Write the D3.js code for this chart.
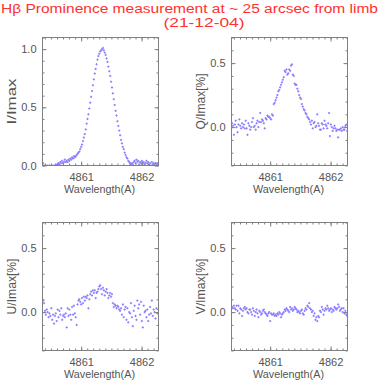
<!DOCTYPE html>
<html>
<head>
<meta charset="utf-8">
<script src="https://cdn.jsdelivr.net/npm/d3@7"></script>
<style>
  html, body { margin: 0; padding: 0; background: #fff; }
  svg { display: block; }
  text { font-family: "Liberation Sans", Arial, Helvetica, sans-serif; }
</style>
</head>
<body>
<svg id="chart" width="390" height="390"></svg>
<script>
// ---------------- data ----------------
const titleLine1 = "H\u03B2 Prominence measurement at ~ 25 arcsec from limb";
const titleLine2 = "(21-12-04)";
const xLabel = "Wavelength(A)";
const yLabels = ["I/Imax", "Q/Imax[%]", "U/Imax[%]", "V/Imax[%]"];

const wavelength = [
  4860.370,4860.385,4860.400,4860.415,4860.430,4860.445,4860.460,4860.475,4860.490,4860.505,4860.520,4860.535,4860.550,4860.565,4860.580,4860.595,
  4860.610,4860.625,4860.640,4860.655,4860.670,4860.685,4860.700,4860.715,4860.730,4860.745,4860.760,4860.775,4860.790,4860.805,4860.820,4860.835,
  4860.850,4860.865,4860.880,4860.895,4860.910,4860.925,4860.940,4860.955,4860.970,4860.985,4861.000,4861.015,4861.030,4861.045,4861.060,4861.075,
  4861.090,4861.105,4861.120,4861.135,4861.150,4861.165,4861.180,4861.195,4861.210,4861.225,4861.240,4861.255,4861.270,4861.285,4861.300,4861.315,
  4861.330,4861.345,4861.360,4861.375,4861.390,4861.405,4861.420,4861.435,4861.450,4861.465,4861.480,4861.495,4861.510,4861.525,4861.540,4861.555,
  4861.570,4861.585,4861.600,4861.615,4861.630,4861.645,4861.660,4861.675,4861.690,4861.705,4861.720,4861.735,4861.750,4861.765,4861.780,4861.795,
  4861.810,4861.825,4861.840,4861.855,4861.870,4861.885,4861.900,4861.915,4861.930,4861.945,4861.960,4861.975,4861.990,4862.005,4862.020,4862.035,
  4862.050,4862.065,4862.080,4862.095,4862.110,4862.125,4862.140,4862.155,4862.170,4862.185,4862.200,4862.215,4862.230,4862.245,4862.260,4862.275
];

const stokesI = [
  0.02,0.00,-0.01,0.00,-0.01,0.00,-0.02,0.00,-0.01,0.00,-0.01,0.00,-0.02,0.00,0.01,0.00,
  0.01,0.02,0.01,0.03,0.02,0.04,0.02,0.03,0.05,0.03,0.04,0.03,0.05,0.04,0.06,0.05,
  0.07,0.06,0.08,0.07,0.08,0.09,0.10,0.11,0.12,0.14,0.16,0.18,0.21,0.24,0.27,0.31,
  0.36,0.40,0.44,0.49,0.54,0.59,0.64,0.69,0.74,0.79,0.83,0.87,0.91,0.94,0.96,0.98,
  0.99,1.00,1.01,0.99,0.97,0.95,0.92,0.89,0.85,0.81,0.77,0.72,0.67,0.62,0.57,0.52,
  0.47,0.43,0.38,0.34,0.30,0.26,0.22,0.19,0.16,0.14,0.11,0.09,0.07,0.06,0.04,0.03,
  0.02,0.01,0.02,0.01,0.03,0.04,0.02,0.05,0.03,0.04,0.01,0.03,0.02,0.04,0.02,0.03,
  0.01,0.02,0.04,0.02,0.03,0.01,0.02,0.00,0.03,0.01,0.02,0.00,0.02,0.01,0.02,0.01
];

const stokesQ = [
  0.03,0.01,-0.06,0.02,0.05,0.00,-0.04,0.02,0.06,0.01,-0.01,0.03,0.00,0.02,-0.01,0.05,
  -0.01,-0.06,0.03,0.01,-0.02,0.00,0.04,0.07,0.00,0.01,-0.02,0.03,0.05,0.00,0.04,0.11,
  0.04,0.06,0.05,0.03,-0.01,0.07,0.06,0.09,0.08,0.08,0.07,0.06,0.10,0.09,0.18,0.19,
  0.21,0.23,0.25,0.28,0.29,0.31,0.33,0.35,0.37,0.39,0.44,0.43,0.45,0.41,0.42,0.45,
  0.44,0.48,0.49,0.41,0.40,0.34,0.33,0.33,0.30,0.28,0.25,0.23,0.22,0.18,0.16,0.14,
  0.13,0.11,0.10,0.08,0.07,0.06,0.04,0.02,0.05,-0.01,0.03,0.04,0.00,0.01,0.10,0.03,
  0.01,-0.02,-0.02,0.03,0.02,-0.01,0.05,0.02,0.01,-0.01,0.03,0.11,-0.07,0.02,0.00,-0.03,
  -0.01,0.01,-0.01,-0.03,-0.02,-0.08,-0.02,-0.02,-0.01,-0.03,0.00,-0.02,-0.02,0.01,0.02,-0.03
];

const stokesU = [
  0.09,0.07,0.01,-0.02,0.02,0.00,-0.04,-0.01,-0.03,0.03,-0.06,-0.02,-0.09,-0.03,-0.01,-0.07,
  0.02,-0.04,0.01,-0.02,0.03,-0.06,-0.03,-0.02,-0.04,-0.01,-0.12,0.03,-0.03,0.02,-0.02,-0.06,
  0.04,-0.02,0.05,-0.01,-0.04,-0.10,0.06,0.09,0.10,0.08,0.06,0.11,0.07,0.12,0.09,0.12,
  0.11,0.13,0.03,0.10,0.14,0.16,0.13,0.17,0.15,0.17,0.11,0.15,0.16,0.18,0.20,0.21,
  0.18,0.14,0.19,0.17,0.13,0.16,0.18,0.15,0.11,0.13,0.15,0.12,0.14,0.07,0.04,0.06,
  0.05,0.03,0.05,0.04,0.02,0.01,0.03,-0.02,0.06,-0.04,0.02,0.04,-0.06,0.03,-0.08,0.00,
  -0.01,0.07,-0.04,-0.11,0.01,0.05,-0.03,-0.06,0.09,0.03,0.06,-0.02,0.08,-0.07,-0.12,0.05,
  0.00,0.01,-0.04,0.02,-0.07,-0.02,0.04,-0.01,0.09,-0.03,0.02,0.00,-0.05,0.03,-0.01,0.02
];

const stokesV = [
  0.04,0.03,0.05,0.03,0.02,0.05,0.01,0.05,-0.01,0.03,0.02,-0.03,0.01,0.03,0.04,0.02,
  0.03,0.00,-0.01,0.02,0.02,0.00,-0.02,0.03,0.01,-0.03,0.00,0.02,-0.01,-0.04,0.01,0.00,
  -0.02,-0.01,0.01,0.02,0.00,-0.01,-0.02,-0.03,-0.01,0.00,-0.07,-0.01,-0.02,-0.02,-0.01,-0.03,
  -0.02,-0.03,-0.01,-0.02,0.00,-0.01,-0.04,-0.02,-0.01,0.00,0.02,0.01,0.03,0.02,0.01,0.00,
  0.04,0.02,0.03,0.01,0.02,0.04,0.03,0.02,0.00,0.01,0.00,-0.01,0.01,0.02,-0.01,-0.02,
  0.01,0.03,0.02,0.05,0.04,0.07,0.03,0.02,0.00,0.01,-0.03,-0.01,-0.06,-0.04,-0.07,-0.03,
  -0.04,0.01,0.00,0.04,0.02,-0.02,0.01,0.03,0.02,0.05,0.03,0.01,0.02,0.03,0.00,0.02,
  0.01,0.04,0.03,0.02,0.03,0.06,0.04,0.01,0.02,0.03,0.00,0.03,-0.01,0.01,-0.02,-0.03
];

const xDomain = [4860.36, 4862.28];
const xTickValues = [4861, 4862];
const yDomainI = [0, 1.1];
const yTicksI = [0, 0.5, 1.0];
const yDomainPol = [-0.3, 0.7];
const yTicksPol = [0, 0.5];

// ---------------- layout / style ----------------
const W = 116, H = 128;
const panelOrigins = [[42.5, 37.5], [231.5, 37.5], [42.5, 222.5], [231.5, 222.5]];
const yLabelLengths = [46, 56, 56, 56];
const seriesList = [stokesI, stokesQ, stokesU, stokesV];
const axisColor = "#808080";
const textColor = "#555555";
const pointColor = "#8a7eff";

const svg = d3.select("#chart");

// title
svg.append("text").attr("x", 1).attr("y", 12.5)
  .attr("textLength", 377).attr("lengthAdjust", "spacingAndGlyphs")
  .attr("font-size", 12).attr("fill", "#ff3030").text(titleLine1);
svg.append("text").attr("x", 204).attr("y", 27)
  .attr("text-anchor", "middle")
  .attr("textLength", 81).attr("lengthAdjust", "spacingAndGlyphs")
  .attr("font-size", 12).attr("fill", "#ff3030").text(titleLine2);

const fmt = d3.format(".1f");

seriesList.forEach((vals, i) => {
  const [ox, oy] = panelOrigins[i];
  const yDomain = i === 0 ? yDomainI : yDomainPol;
  const yTicks = i === 0 ? yTicksI : yTicksPol;
  const x = d3.scaleLinear().domain(xDomain).range([0, W]);
  const y = d3.scaleLinear().domain(yDomain).range([H, 0]);

  const g = svg.append("g").attr("transform", `translate(${ox},${oy})`);

  const clipId = "clip" + i;
  g.append("clipPath").attr("id", clipId)
    .append("rect").attr("x", 0).attr("y", 0).attr("width", W).attr("height", H);

  // points
  g.append("g").attr("clip-path", `url(#${clipId})`)
    .selectAll("path").data(vals).join("path")
    .attr("transform", (d, k) => `translate(${x(wavelength[k])},${y(d)})`)
    .attr("d", "M-1.1,0H1.1M0,-1.1V1.1")
    .attr("stroke", pointColor).attr("stroke-width", 1).attr("fill", "none");

  const styleAxis = sel => {
    sel.select(".domain").remove();
    sel.selectAll(".tick line").attr("stroke", axisColor);
    sel.selectAll(".tick text").attr("fill", textColor).attr("font-size", 11)
      .attr("font-family", '"Liberation Sans", Arial, sans-serif');
  };

  // minor ticks
  const xMinor = x.ticks(20), yMinor = y.ticks(10);
  g.append("g").attr("transform", `translate(0,${H})`)
    .call(d3.axisBottom(x).tickValues(xMinor).tickSize(-2).tickFormat("")).call(styleAxis);
  g.append("g")
    .call(d3.axisTop(x).tickValues(xMinor).tickSize(-2).tickFormat("")).call(styleAxis);
  g.append("g")
    .call(d3.axisLeft(y).tickValues(yMinor).tickSize(-2).tickFormat("")).call(styleAxis);
  g.append("g").attr("transform", `translate(${W},0)`)
    .call(d3.axisRight(y).tickValues(yMinor).tickSize(-2).tickFormat("")).call(styleAxis);

  // major ticks
  g.append("g").attr("transform", `translate(0,${H})`)
    .call(d3.axisBottom(x).tickValues(xTickValues).tickSize(-4).tickPadding(7.5).tickFormat(d3.format("d")))
    .call(styleAxis);
  g.append("g")
    .call(d3.axisTop(x).tickValues(xTickValues).tickSize(-4).tickFormat("")).call(styleAxis);
  g.append("g")
    .call(d3.axisLeft(y).tickValues(yTicks).tickSize(-4).tickPadding(6).tickFormat(fmt))
    .call(styleAxis);
  g.append("g").attr("transform", `translate(${W},0)`)
    .call(d3.axisRight(y).tickValues(yTicks).tickSize(-4).tickFormat("")).call(styleAxis);

  // frame
  g.append("rect").attr("x", 0).attr("y", 0).attr("width", W).attr("height", H)
    .attr("fill", "none").attr("stroke", axisColor).attr("stroke-width", 1);

  // axis titles
  g.append("text").attr("x", W / 2 - 1).attr("y", H + 27.5)
    .attr("text-anchor", "middle").attr("font-size", 11).attr("fill", textColor)
    .attr("textLength", 71).attr("lengthAdjust", "spacingAndGlyphs")
    .text(xLabel);
  g.append("text")
    .attr("transform", `translate(-31,${H / 2}) rotate(-90)`)
    .attr("text-anchor", "middle").attr("dominant-baseline", "central")
    .attr("font-size", 12).attr("fill", textColor)
    .attr("textLength", yLabelLengths[i]).attr("lengthAdjust", "spacingAndGlyphs")
    .text(yLabels[i]);
});
</script>
</body>
</html>
